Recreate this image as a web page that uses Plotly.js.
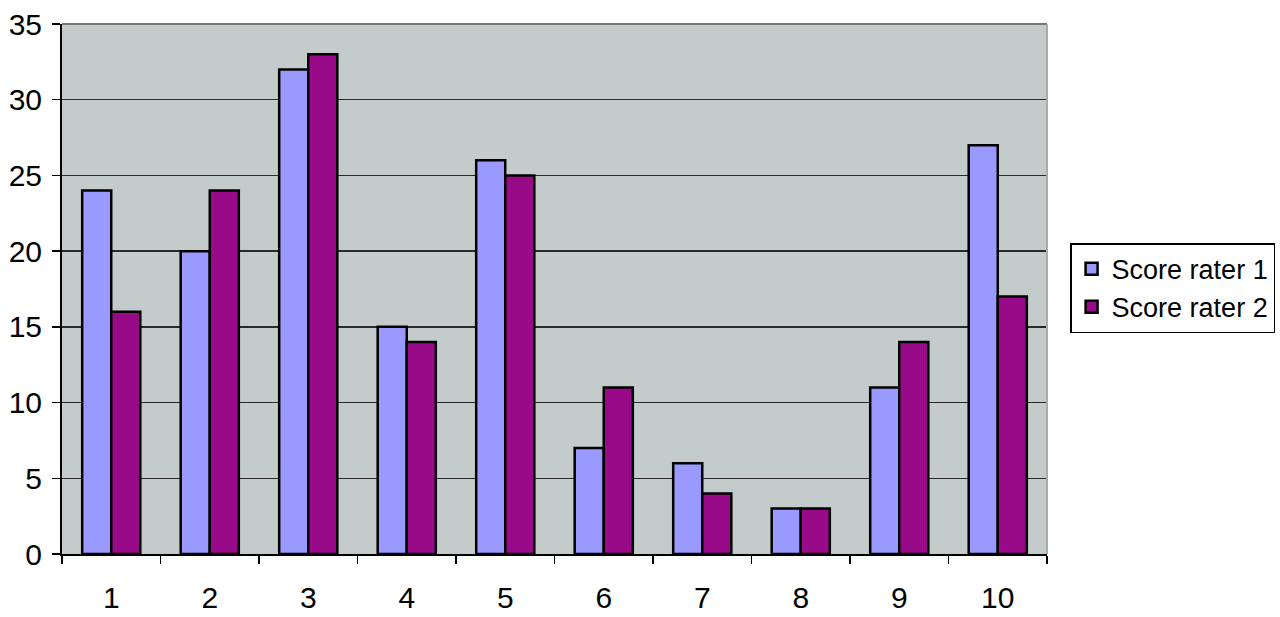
<!DOCTYPE html>
<html>
<head>
<meta charset="utf-8">
<script src="https://cdn.plot.ly/plotly-3.0.1.min.js"></script>
<style>html,body{margin:0;padding:0;background:#fff;}#chart{width:1280px;height:617px;}</style>
</head>
<body>
<div id="chart"></div>
<script>
var categories = ['1','2','3','4','5','6','7','8','9','10'];
var rater1 = [24, 20, 32, 15, 26, 7, 6, 3, 11, 27];
var rater2 = [16, 24, 33, 14, 25, 11, 4, 3, 14, 17];
var seriesNames = ['Score rater 1', 'Score rater 2'];
var yTicks = [0, 5, 10, 15, 20, 25, 30, 35];

var traces = [
  {type:'bar', x:categories, y:rater1, name:seriesNames[0],
   marker:{color:'#9999ff', line:{color:'#000000', width:2.5}}},
  {type:'bar', x:categories, y:rater2, name:seriesNames[1],
   marker:{color:'#990a88', line:{color:'#000000', width:2.5}}}
];

var layout = {
  width:1280, height:617,
  margin:{l:62, r:233, t:24, b:63},
  paper_bgcolor:'#ffffff',
  plot_bgcolor:'#c3cbcb',
  barmode:'group', bargap:0.41, bargroupgap:0,
  font:{family:'Liberation Sans, Arial, sans-serif', color:'#000'},
  xaxis:{type:'category', tickson:'boundaries', ticks:'outside', ticklen:8, tickcolor:'#000', tickwidth:1.5,
         showline:true, linecolor:'#000', linewidth:2, showgrid:false,
         tickfont:{size:30}, ticklabelstandoff:16, fixedrange:true},
  yaxis:{range:[0,35], tickvals:yTicks, ticks:'outside', ticklen:8, tickcolor:'#000', tickwidth:1.5,
         showline:true, linecolor:'#000', linewidth:2, gridcolor:'#2a2a2a', gridwidth:1.5,
         zeroline:false, tickfont:{size:30}, ticklabelstandoff:4, fixedrange:true},
  showlegend:true,
  legend:{xref:'container', yref:'container', x:0.836, xanchor:'left', y:0.533, yanchor:'middle', bgcolor:'#ffffff',
          bordercolor:'#000', borderwidth:1.5, font:{size:27}, tracegroupgap:0,
          itemwidth:30},
  shapes:[
    {type:'line', xref:'paper', yref:'paper', x0:0, x1:1, y0:1, y1:1, line:{color:'#777', width:2}},
    {type:'line', xref:'paper', yref:'paper', x0:1, x1:1, y0:0, y1:1, line:{color:'#aaa', width:2}}
  ]
};
Plotly.newPlot('chart', traces, layout, {displayModeBar:false, staticPlot:true});
</script>
</body>
</html>
